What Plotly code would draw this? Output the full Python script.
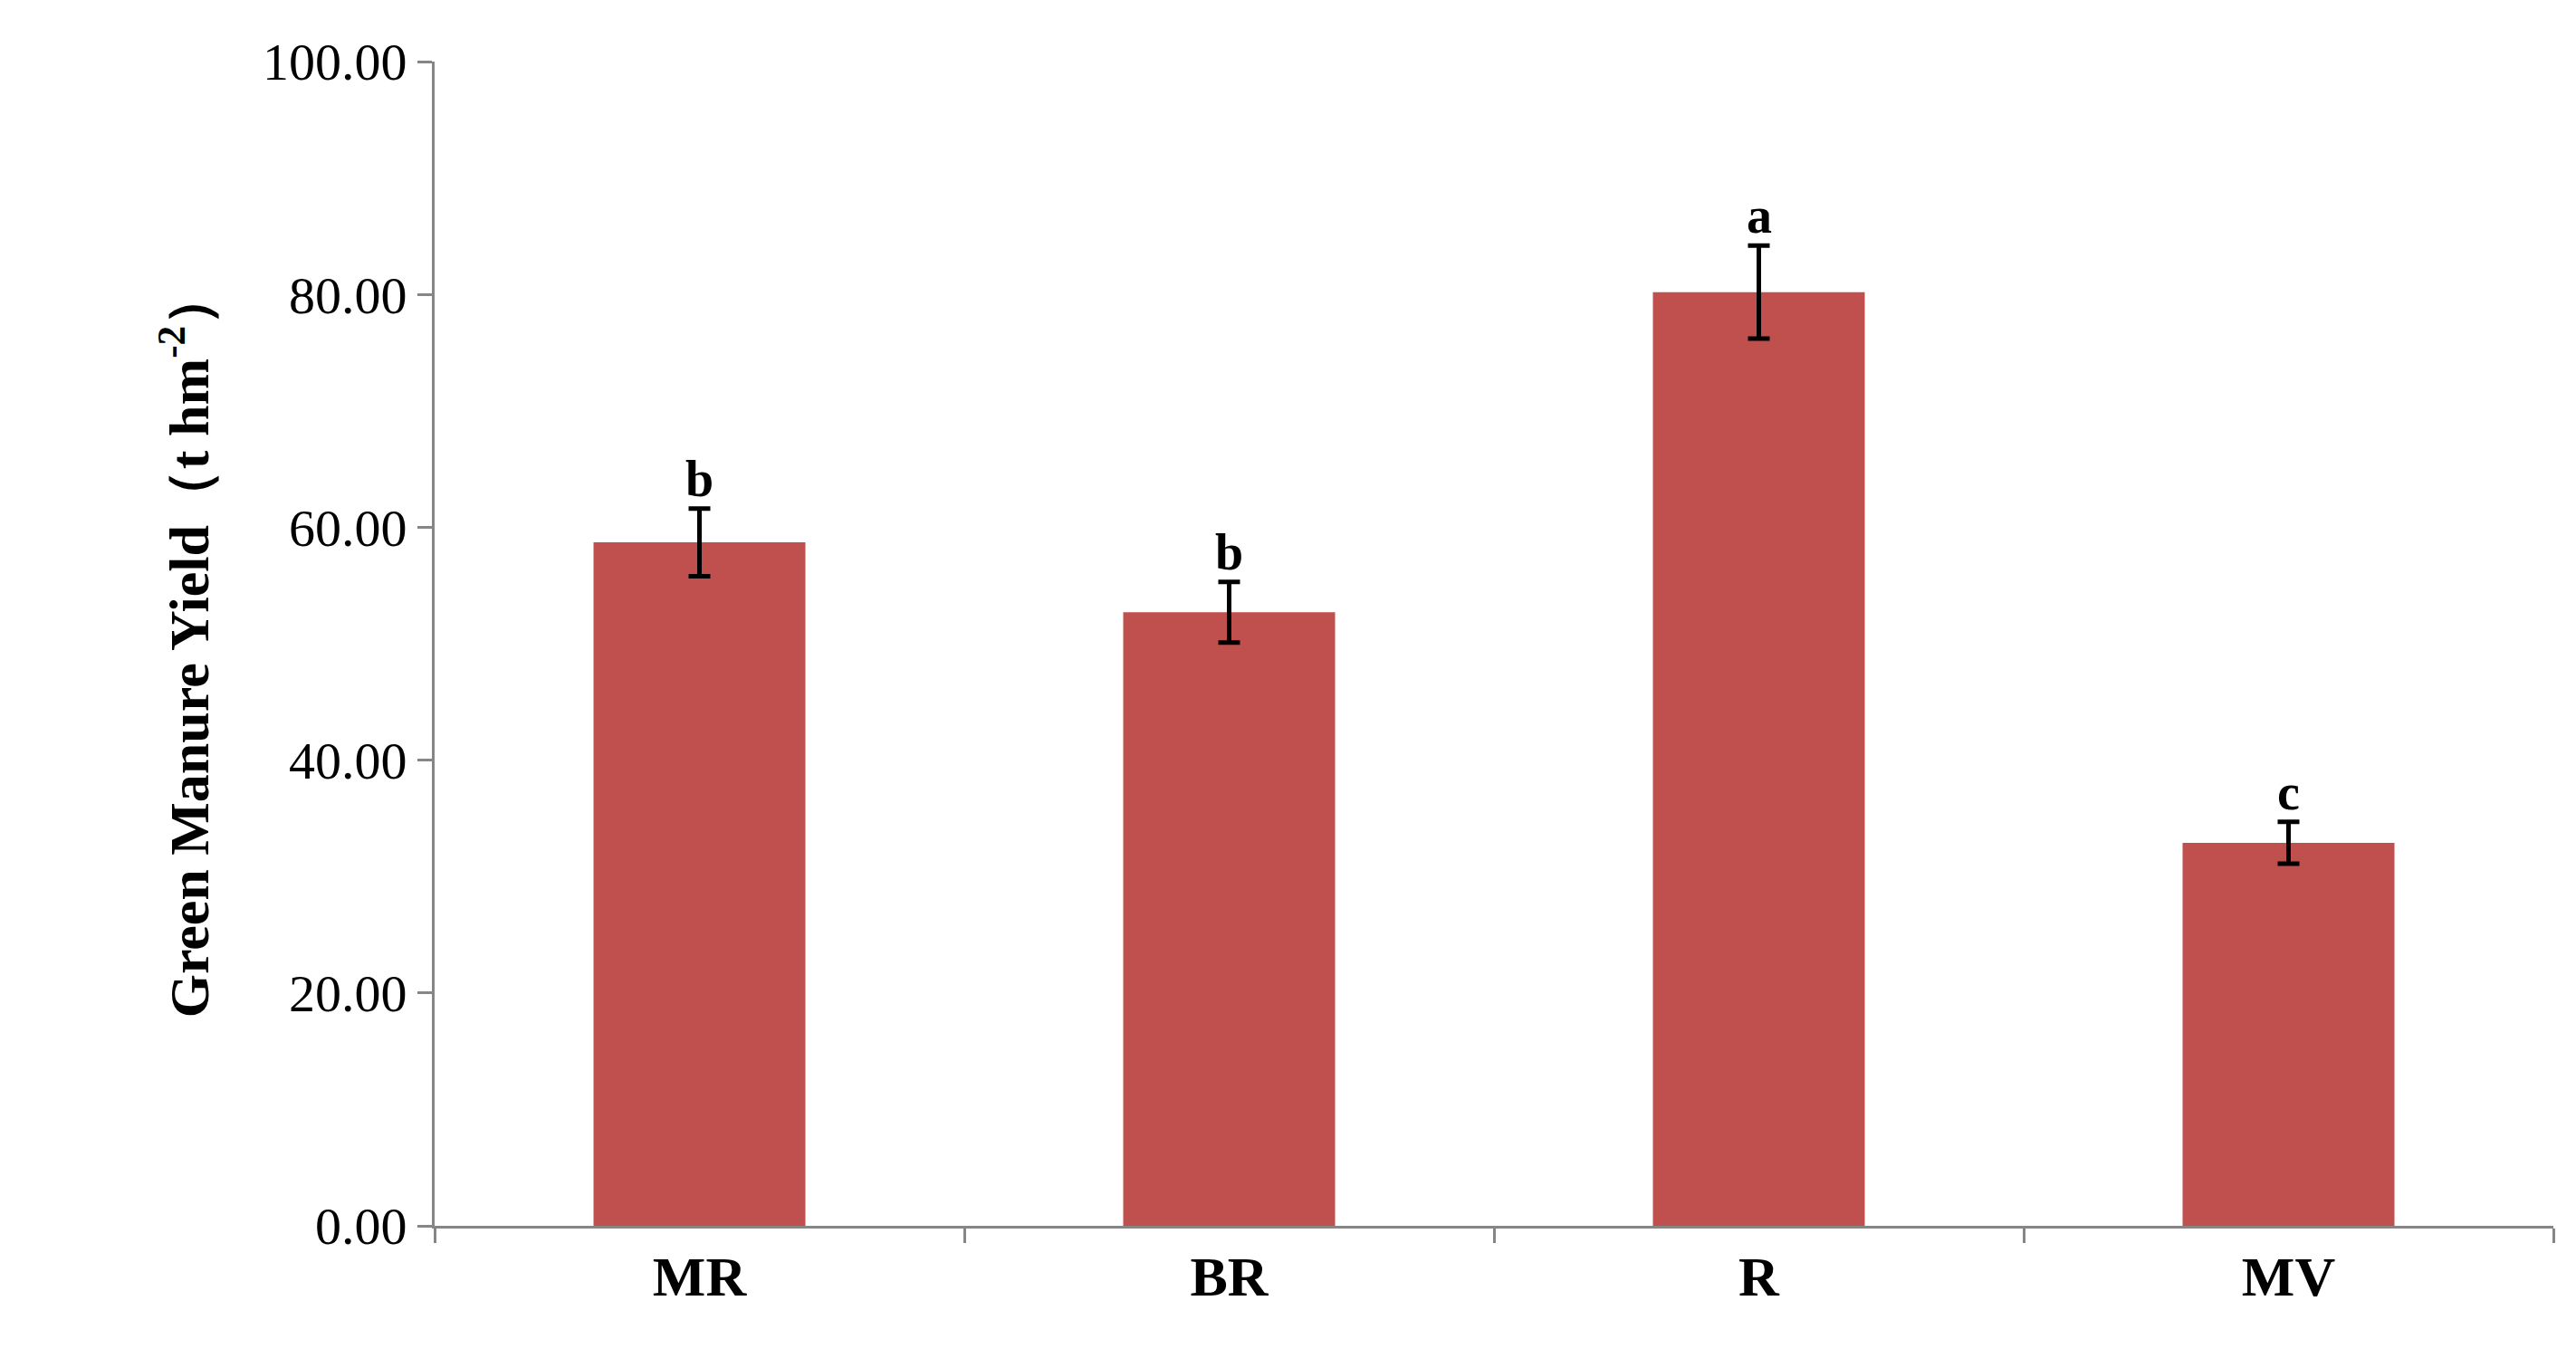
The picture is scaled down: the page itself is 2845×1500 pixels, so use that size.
import plotly.graph_objects as go

categories = ["MR", "BR", "R", "MV"]
yields = [58.7, 52.7, 80.2, 32.9]
errors = [2.9, 2.6, 4.0, 1.8]
letters = ["b", "b", "a", "c"]

bar_color = "#C0504D"
font_family = "Liberation Serif, Times New Roman, serif"

fig = go.Figure()
fig.add_trace(go.Bar(
    x=categories, y=yields, width=0.4,
    marker=dict(color=bar_color, line=dict(width=0)),
    error_y=dict(type="data", array=errors, color="black", thickness=5, width=12),
))

for cat, val, err, lab in zip(categories, yields, errors, letters):
    fig.add_annotation(x=cat, y=val + err, text=f"<b>{lab}</b>", showarrow=False,
                       yanchor="bottom", yshift=0,
                       font=dict(family=font_family, size=56, color="black"))

fig.update_layout(
    width=2845, height=1500,
    plot_bgcolor="white", paper_bgcolor="white",
    margin=dict(l=472, r=33, t=60, b=154),
    showlegend=False,
    font=dict(family=font_family, color="black"),
)
fig.update_xaxes(
    showline=True, linecolor="#868686", linewidth=3,
    ticks="outside", tickson="boundaries", ticklen=16, tickwidth=3, tickcolor="#868686",
    tickfont=dict(size=62, family=font_family),
    ticktext=[f"<b>{c}</b>" for c in categories], tickvals=categories,
    range=[-0.5, 3.5],
)
fig.update_yaxes(
    range=[0, 100], dtick=20, tickformat=".2f",
    showline=True, linecolor="#868686", linewidth=3,
    ticks="outside", ticklen=16, tickwidth=3, tickcolor="#868686",
    showgrid=False, zeroline=False,
    tickfont=dict(size=58, family=font_family),
    title=dict(text="<b>Green Manure Yield（t hm<sup>-2</sup>）</b>",
               font=dict(size=62, family=font_family), standoff=40),
)

fig.write_html("out.html")
